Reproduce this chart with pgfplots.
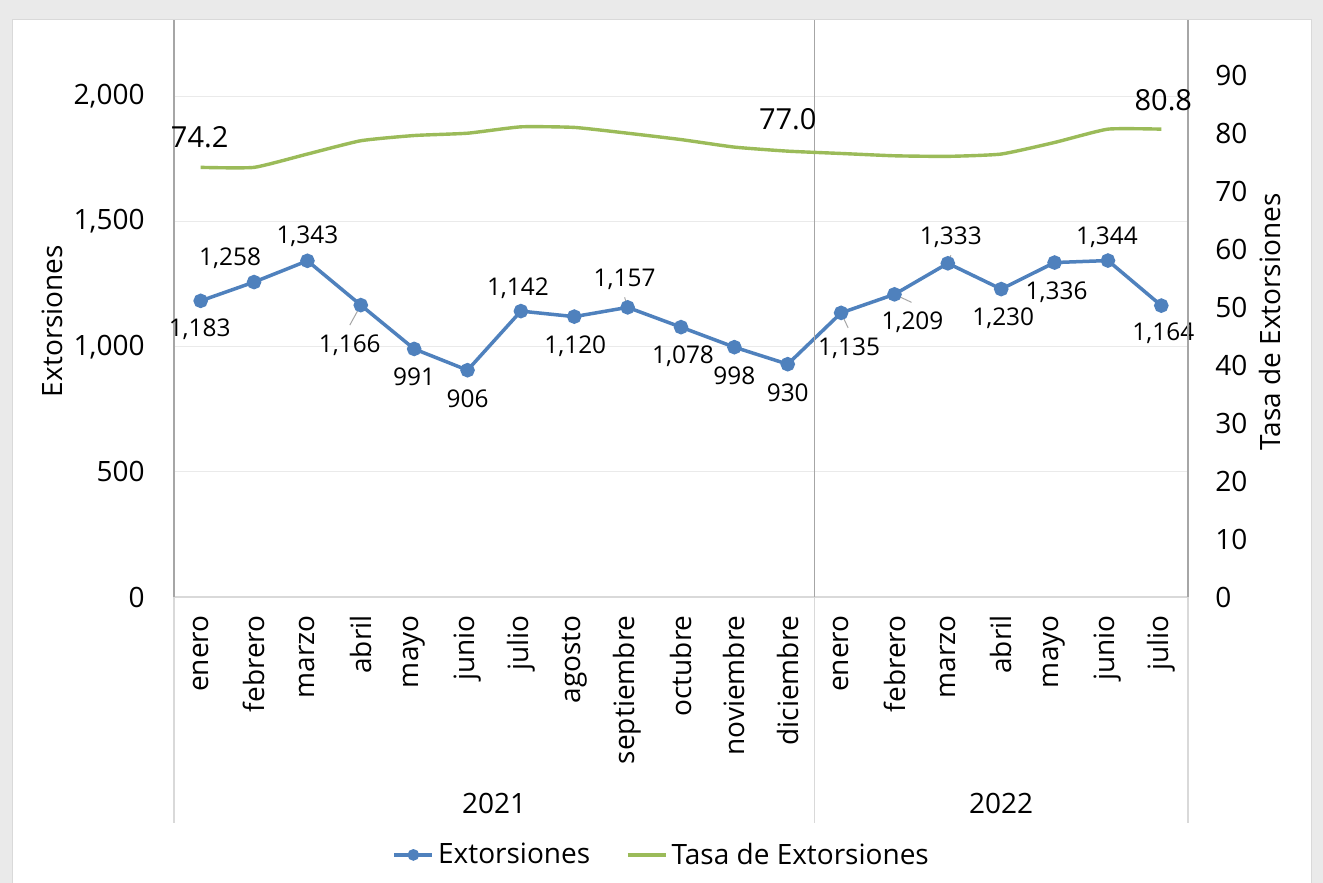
\documentclass[border=0pt]{standalone}
\usepackage{fontspec}
\setmainfont{Open Sans}
\usepackage{pgfplots}
\usepackage{pgfplotstable}
\pgfplotsset{compat=1.18}

\definecolor{exblue}{RGB}{79,129,189}
\definecolor{tagreen}{RGB}{155,187,89}
\definecolor{bgpanel}{RGB}{234,234,234}
\definecolor{gridc}{RGB}{234,234,234}
\definecolor{axc}{RGB}{166,166,166}
\definecolor{axlight}{RGB}{217,217,217}

\newcommand\fs{\fontsize{14}{16}\selectfont}
\newcommand\fsd{\fontsize{12.2}{14}\selectfont}
\newcommand\fst{\fontsize{14.5}{16}\selectfont}

% Extorsiones: valor y desplazamiento de la etiqueta (pt)
\pgfplotstableread{
x y dx dy
0 1183 -0.5 -13.5
1 1258 -12 12.5
2 1343 0 13
3 1166 -5.5 -19.5
4 991 0 -14
5 906 0 -14
6 1142 -1.5 12
7 1120 0.5 -14
8 1157 -1.5 15
9 1078 1 -14
10 998 0 -14
11 930 0 -14
12 1135 4 -17
13 1209 9 -13
14 1333 1.5 14
15 1230 1 -14
16 1336 1 -14
17 1344 -0.5 12.5
18 1164 1 -13
}\extorsiones

\pgfplotstableread{
x y
0 74.2
1 74.2
2 76.5
3 78.8
4 79.7
5 80.1
6 81.2
7 81.1
8 80.1
9 79.0
10 77.7
11 77.0
12 76.6
13 76.2
14 76.1
15 76.5
16 78.5
17 80.8
18 80.8
}\tasa

\pgfplotstableread{
x y lbl dx dy
0 74.2 74.2 -0.5 15
11 77.0 77.0 0 16
18 80.8 80.8 1 14.5
}\tasalbl

\begin{document}
\begin{tikzpicture}
\useasboundingbox (0,0) rectangle (661.5pt,441.5pt);
\fill[bgpanel] (0,0) rectangle (661.5pt,441.5pt);
\fill[white,draw=axlight,line width=0.5pt] (6pt,-1pt) rectangle (655.5pt,431.5pt);

\begin{axis}[
  at={(87pt,143pt)}, anchor=south west,
  scale only axis, width=507pt, height=288.5pt,
  xmin=-0.5, xmax=18.5, ymin=0, ymax=2305,
  axis x line*=bottom, axis y line*=left,
  x axis line style={draw=axlight, line width=0.75pt},
  y axis line style={draw=axc, line width=0.75pt},
  major tick length=0pt,
  xtick={0,...,18},
  xticklabels={enero,febrero,marzo,abril,mayo,junio,julio,agosto,septiembre,octubre,noviembre,diciembre,enero,febrero,marzo,abril,mayo,junio,julio},
  xticklabel style={rotate=90, anchor=east, inner sep=0pt, font=\fs},
  xticklabel shift=9pt,
  ytick={0,500,...,2000},
  yticklabel style={font=\fs, inner sep=0pt},
  yticklabel shift=14.5pt,
  ymajorgrids, grid style={draw=gridc, line width=0.5pt},
  /pgf/number format/fixed,
  /pgf/number format/precision=0,
  /pgf/number format/1000 sep={,},
  /pgf/number format/assume math mode=true,
  clip=false,
]
\addplot[exblue, line width=1.75pt, mark=*, mark size=2.75pt,
  mark options={solid, fill=exblue, draw=exblue},
  nodes near coords, point meta=explicit,
  visualization depends on={\thisrow{dx}\as\dx},
  visualization depends on={\thisrow{dy}\as\dy},
  every node near coord/.append style={font=\fsd, text=black, anchor=center,
    xshift=\dx pt, yshift=\dy pt, text depth=0pt, inner sep=0pt}]
  table[x=x, y=y, meta=y] {\extorsiones};

% lineas guia de etiquetas
\draw[axc, line width=0.5pt] (axis cs:3,1166) -- ([xshift=-5.5pt,yshift=-10pt]axis cs:3,1166);
\draw[axc, line width=0.5pt] (axis cs:8,1157) -- ([xshift=-1.5pt,yshift=5pt]axis cs:8,1157);
\draw[axc, line width=0.5pt] (axis cs:12,1135) -- ([xshift=3.5pt,yshift=-7.5pt]axis cs:12,1135);
\draw[axc, line width=0.5pt] (axis cs:13,1209) -- ([xshift=8.5pt,yshift=-4pt]axis cs:13,1209);
\draw[axc, line width=0.5pt] (axis cs:14,1333) -- ([xshift=1.5pt,yshift=4pt]axis cs:14,1333);

% separadores de anio
\draw[axc, line width=0.75pt] (axis cs:11.5,0) -- (axis cs:11.5,2305);
\draw[axlight, line width=0.75pt] (axis cs:-0.5,0) -- ([yshift=-113pt]axis cs:-0.5,0);
\draw[axlight, line width=0.75pt] (axis cs:11.5,0) -- ([yshift=-113pt]axis cs:11.5,0);
\draw[axlight, line width=0.75pt] (axis cs:18.5,0) -- ([yshift=-113pt]axis cs:18.5,0);
\node[font=\fs, yshift=-103pt] at (axis cs:5.5,0) {2021};
\node[font=\fs, yshift=-103pt] at (axis cs:15,0) {2022};
\end{axis}

\begin{axis}[
  at={(87pt,143pt)}, anchor=south west,
  scale only axis, width=507pt, height=288.5pt,
  xmin=-0.5, xmax=18.5, ymin=0, ymax=99.65,
  axis y line*=right, axis x line=none,
  y axis line style={draw=axc, line width=0.75pt},
  major tick length=0pt,
  ytick={0,10,...,90},
  yticklabel style={font=\fs, inner sep=0pt},
  yticklabel shift=13.5pt,
  /pgf/number format/assume math mode=true,
  clip=false,
  legend style={at={(0.482,-0.447)}, anchor=center, draw=none, fill=none,
    font=\fs, inner sep=0pt,
    /tikz/every even column/.append style={column sep=16pt}},
  legend columns=2, legend cell align=left,
  legend image code/.code={%
    \draw[mark repeat=2, mark phase=2, #1] plot coordinates {(0pt,0pt) (9.5pt,0pt) (19pt,0pt)};},
]
\addlegendimage{exblue, line width=1.75pt, mark=*, mark size=2pt, mark options={solid, fill=exblue}}
\addlegendentry{Extorsiones}
\addplot[tagreen, line width=1.7pt, smooth, tension=0.3] table[x=x, y=y] {\tasa};
\addlegendentry{Tasa de Extorsiones}

\addplot[draw=none, mark=none, forget plot,
  nodes near coords, point meta=explicit symbolic,
  visualization depends on={\thisrow{dx}\as\dx},
  visualization depends on={\thisrow{dy}\as\dy},
  every node near coord/.append style={font=\fst, text=black, anchor=center,
    xshift=\dx pt, yshift=\dy pt, text depth=0pt, inner sep=0pt}]
  table[x=x, y=y, meta=lbl] {\tasalbl};
\end{axis}

\node[rotate=90, anchor=base, font=\fs] at (31pt,281pt) {Extorsiones};
\node[rotate=90, anchor=base, font=\fs] at (640pt,280.5pt) {Tasa de Extorsiones};
\end{tikzpicture}
\end{document}
